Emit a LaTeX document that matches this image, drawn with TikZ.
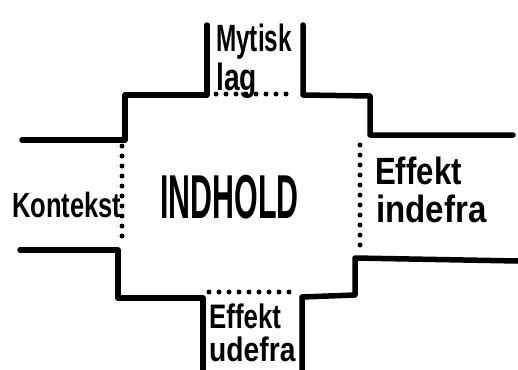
\documentclass[tikz,border=0pt]{standalone}
\usepackage{fontspec}
\setmainfont{Liberation Sans}
\newcommand{\squeeze}[2]{\scalebox{#1}[1]{#2}}

\begin{document}
\begin{tikzpicture}[
        x=1pt, y=-1pt,
        wall/.style={line width=5.5pt, line join=round, line cap=round},
        gap/.style={line width=5pt, line cap=round, dash pattern=on 0pt off 10pt},
        hand/.style={inner sep=0pt, anchor=base west, font=\bfseries\fontsize{38}{38}\selectfont},
        big/.style={inner sep=0pt, anchor=base west, font=\bfseries\fontsize{62}{62}\selectfont}
    ]
        \useasboundingbox (0,0) rectangle (518,369);

        % corners of the middle box
        \coordinate (nw) at (125,95);
        \coordinate (ne) at (370,96);
        \coordinate (sw) at (118,298);
        \coordinate (se) at (355,295);

        % walls
        \draw[wall] (22,140) -- (nw |- 0,140) -- (nw) -- (207,95) -- (207,25);
        \draw[wall] (303,25) -- (303,95) -- (ne) -- (370,135) -- (513,135);
        \draw[wall] (20,250) -- (sw |- 0,250) -- (sw) -- (203,298) -- (203,372);
        \draw[wall] (302,372) -- (302,297) -- (se) -- (355,258) -- (518,261);

        % open sides
        \draw[gap] (216,94) -- (296,94);
        \draw[gap] (122,146) -- (122,246);
        \draw[gap] (360,145) -- (360,250);
        \draw[gap] (209,292) -- (297,292);

        \node[big] (indhold) at (160,218) {\squeeze{0.49}{INDHOLD}};
        \node[hand, font=\bfseries\fontsize{35}{35}\selectfont] (kontekst) at (12,217) {\squeeze{0.73}{Kontekst}};
        \node[hand] (mytisk) at (216,52) {\squeeze{0.64}{Mytisk}};
        \node[hand] (lag) at (216,90) {\squeeze{0.74}{lag}};
        \node[hand] (effekt1) at (375,184) {\squeeze{0.82}{Effekt}};
        \node[hand] (indefra) at (376,222) {\squeeze{0.87}{indefra}};
        \node[hand, font=\bfseries\fontsize{34}{34}\selectfont] (effekt2) at (209,328) {\squeeze{0.76}{Effekt}};
        \node[hand, font=\bfseries\fontsize{34}{34}\selectfont] (udefra) at (209,361) {\squeeze{0.83}{udefra}};
    \end{tikzpicture}
\end{document}
